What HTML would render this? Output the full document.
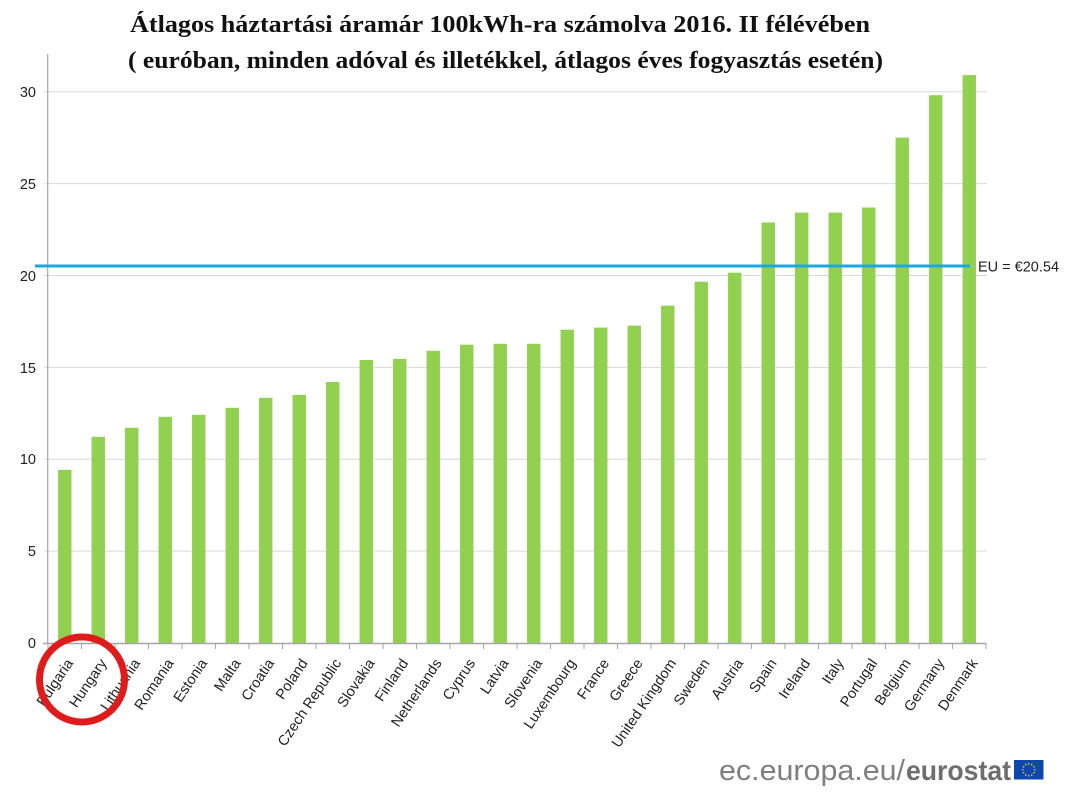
<!DOCTYPE html>
<html>
<head>
<meta charset="utf-8">
<style>
html,body{margin:0;padding:0;background:#fff;}
svg{display:block;}
</style>
</head>
<body>
<svg width="1079" height="800" viewBox="0 0 1079 800" xmlns="http://www.w3.org/2000/svg">
<rect width="1079" height="800" fill="#fff"/>
<!-- Title -->
<text x="130" y="32" font-family="'Liberation Serif', serif" font-weight="bold" font-size="24" fill="#111" textLength="740" lengthAdjust="spacingAndGlyphs">Átlagos háztartási áramár 100kWh-ra számolva 2016. II félévében</text>
<text x="128" y="68" font-family="'Liberation Serif', serif" font-weight="bold" font-size="24" fill="#111" textLength="755" lengthAdjust="spacingAndGlyphs">( euróban, minden adóval és illetékkel, átlagos éves fogyasztás esetén)</text>

<!-- gridlines -->
<g stroke="#d9d9d9" stroke-width="1">
<line x1="44" y1="91.7" x2="987" y2="91.7"/>
<line x1="44" y1="183.6" x2="987" y2="183.6"/>
<line x1="44" y1="275.5" x2="987" y2="275.5"/>
<line x1="44" y1="367.4" x2="987" y2="367.4"/>
<line x1="44" y1="459.2" x2="987" y2="459.2"/>
<line x1="44" y1="551.1" x2="987" y2="551.1"/>
</g>
<!-- y labels -->
<g font-family="'Liberation Sans', Arial, sans-serif" font-size="14.5" fill="#222" text-anchor="end">
<text x="36" y="97">30</text>
<text x="36" y="189">25</text>
<text x="36" y="281">20</text>
<text x="36" y="373">15</text>
<text x="36" y="464">10</text>
<text x="36" y="556">5</text>
<text x="36" y="648">0</text>
</g>

<!-- bars -->
<g fill="#92d050">
<rect x="58.05" y="469.9" width="13.4" height="173.1"/>
<rect x="91.55" y="436.8" width="13.4" height="206.2"/>
<rect x="125.05" y="427.8" width="13.4" height="215.2"/>
<rect x="158.55" y="416.8" width="13.4" height="226.2"/>
<rect x="192.05" y="414.8" width="13.4" height="228.2"/>
<rect x="225.55" y="407.8" width="13.4" height="235.2"/>
<rect x="259.05" y="397.8" width="13.4" height="245.2"/>
<rect x="292.55" y="394.9" width="13.4" height="248.1"/>
<rect x="326.05" y="382.0" width="13.4" height="261.0"/>
<rect x="359.55" y="360.0" width="13.4" height="283.0"/>
<rect x="393.05" y="358.9" width="13.4" height="284.1"/>
<rect x="426.55" y="350.8" width="13.4" height="292.2"/>
<rect x="460.05" y="344.7" width="13.4" height="298.3"/>
<rect x="493.55" y="343.8" width="13.4" height="299.2"/>
<rect x="527.05" y="343.8" width="13.4" height="299.2"/>
<rect x="560.55" y="329.7" width="13.4" height="313.3"/>
<rect x="594.05" y="327.6" width="13.4" height="315.4"/>
<rect x="627.55" y="325.6" width="13.4" height="317.4"/>
<rect x="661.05" y="305.6" width="13.4" height="337.4"/>
<rect x="694.55" y="281.7" width="13.4" height="361.3"/>
<rect x="728.05" y="272.7" width="13.4" height="370.3"/>
<rect x="761.55" y="222.5" width="13.4" height="420.5"/>
<rect x="795.05" y="212.6" width="13.4" height="430.4"/>
<rect x="828.55" y="212.6" width="13.4" height="430.4"/>
<rect x="862.05" y="207.5" width="13.4" height="435.5"/>
<rect x="895.55" y="137.6" width="13.4" height="505.4"/>
<rect x="929.05" y="95.2" width="13.4" height="547.8"/>
<rect x="962.55" y="75.1" width="13.4" height="567.9"/>
</g>

<!-- axes -->
<line x1="47.7" y1="54" x2="47.7" y2="643.5" stroke="#a6a6a6" stroke-width="1.2"/>
<line x1="43" y1="643.5" x2="986.5" y2="643.5" stroke="#a6a6a6" stroke-width="1.5"/>
<g stroke="#a6a6a6" stroke-width="1">
<line x1="48" y1="643" x2="48" y2="649"/>
<line x1="81.5" y1="643" x2="81.5" y2="649"/>
<line x1="115" y1="643" x2="115" y2="649"/>
<line x1="148.5" y1="643" x2="148.5" y2="649"/>
<line x1="182" y1="643" x2="182" y2="649"/>
<line x1="215.5" y1="643" x2="215.5" y2="649"/>
<line x1="249" y1="643" x2="249" y2="649"/>
<line x1="282.5" y1="643" x2="282.5" y2="649"/>
<line x1="316" y1="643" x2="316" y2="649"/>
<line x1="349.5" y1="643" x2="349.5" y2="649"/>
<line x1="383" y1="643" x2="383" y2="649"/>
<line x1="416.5" y1="643" x2="416.5" y2="649"/>
<line x1="450" y1="643" x2="450" y2="649"/>
<line x1="483.5" y1="643" x2="483.5" y2="649"/>
<line x1="517" y1="643" x2="517" y2="649"/>
<line x1="550.5" y1="643" x2="550.5" y2="649"/>
<line x1="584" y1="643" x2="584" y2="649"/>
<line x1="617.5" y1="643" x2="617.5" y2="649"/>
<line x1="651" y1="643" x2="651" y2="649"/>
<line x1="684.5" y1="643" x2="684.5" y2="649"/>
<line x1="718" y1="643" x2="718" y2="649"/>
<line x1="751.5" y1="643" x2="751.5" y2="649"/>
<line x1="785" y1="643" x2="785" y2="649"/>
<line x1="818.5" y1="643" x2="818.5" y2="649"/>
<line x1="852" y1="643" x2="852" y2="649"/>
<line x1="885.5" y1="643" x2="885.5" y2="649"/>
<line x1="919" y1="643" x2="919" y2="649"/>
<line x1="952.5" y1="643" x2="952.5" y2="649"/>
<line x1="986" y1="643" x2="986" y2="649"/>
</g>

<!-- EU line -->
<line x1="35" y1="266" x2="970" y2="266" stroke="#1fa6dd" stroke-width="3"/>
<text x="978" y="271.5" font-family="'Liberation Sans', Arial, sans-serif" font-size="14.5" fill="#222">EU = €20.54</text>

<!-- x labels -->
<g font-family="'Liberation Sans', Arial, sans-serif" font-size="14.5" fill="#222" text-anchor="end">
<text transform="translate(73.75,663) rotate(-56)">Bulgaria</text>
<text transform="translate(107.25,663) rotate(-56)">Hungary</text>
<text transform="translate(140.75,663) rotate(-56)">Lithuania</text>
<text transform="translate(174.25,663) rotate(-56)">Romania</text>
<text transform="translate(207.75,663) rotate(-56)">Estonia</text>
<text transform="translate(241.25,663) rotate(-56)">Malta</text>
<text transform="translate(274.75,663) rotate(-56)">Croatia</text>
<text transform="translate(308.25,663) rotate(-56)">Poland</text>
<text transform="translate(341.75,663) rotate(-56)">Czech Republic</text>
<text transform="translate(375.25,663) rotate(-56)">Slovakia</text>
<text transform="translate(408.75,663) rotate(-56)">Finland</text>
<text transform="translate(442.25,663) rotate(-56)">Netherlands</text>
<text transform="translate(475.75,663) rotate(-56)">Cyprus</text>
<text transform="translate(509.25,663) rotate(-56)">Latvia</text>
<text transform="translate(542.75,663) rotate(-56)">Slovenia</text>
<text transform="translate(576.25,663) rotate(-56)">Luxembourg</text>
<text transform="translate(609.75,663) rotate(-56)">France</text>
<text transform="translate(643.25,663) rotate(-56)">Greece</text>
<text transform="translate(676.75,663) rotate(-56)">United Kingdom</text>
<text transform="translate(710.25,663) rotate(-56)">Sweden</text>
<text transform="translate(743.75,663) rotate(-56)">Austria</text>
<text transform="translate(777.25,663) rotate(-56)">Spain</text>
<text transform="translate(810.75,663) rotate(-56)">Ireland</text>
<text transform="translate(844.25,663) rotate(-56)">Italy</text>
<text transform="translate(877.75,663) rotate(-56)">Portugal</text>
<text transform="translate(911.25,663) rotate(-56)">Belgium</text>
<text transform="translate(944.75,663) rotate(-56)">Germany</text>
<text transform="translate(978.25,663) rotate(-56)">Denmark</text>
</g>

<!-- red circle -->
<circle cx="82" cy="679.5" r="42.5" fill="none" stroke="#e01b1b" stroke-width="7"/>

<!-- logo -->
<text x="719" y="780" font-family="'Liberation Sans', Arial, sans-serif" font-size="29" fill="#7f7f7f" textLength="186" lengthAdjust="spacingAndGlyphs">ec.europa.eu/</text>
<text x="906" y="780" font-family="'Liberation Sans', Arial, sans-serif" font-size="28" font-weight="bold" fill="#6e6e6e" textLength="105" lengthAdjust="spacingAndGlyphs">eurostat</text>
<rect x="1014" y="760" width="29.5" height="19.5" fill="#0f47af"/>
<g fill="#ffdd00">
<circle cx="1028.75" cy="763.75" r="0.8"/>
<circle cx="1031.75" cy="764.55" r="0.8"/>
<circle cx="1033.95" cy="766.75" r="0.8"/>
<circle cx="1034.75" cy="769.75" r="0.8"/>
<circle cx="1033.95" cy="772.75" r="0.8"/>
<circle cx="1031.75" cy="774.95" r="0.8"/>
<circle cx="1028.75" cy="775.75" r="0.8"/>
<circle cx="1025.75" cy="774.95" r="0.8"/>
<circle cx="1023.55" cy="772.75" r="0.8"/>
<circle cx="1022.75" cy="769.75" r="0.8"/>
<circle cx="1023.55" cy="766.75" r="0.8"/>
<circle cx="1025.75" cy="764.55" r="0.8"/>
</g>
</svg>
</body>
</html>
